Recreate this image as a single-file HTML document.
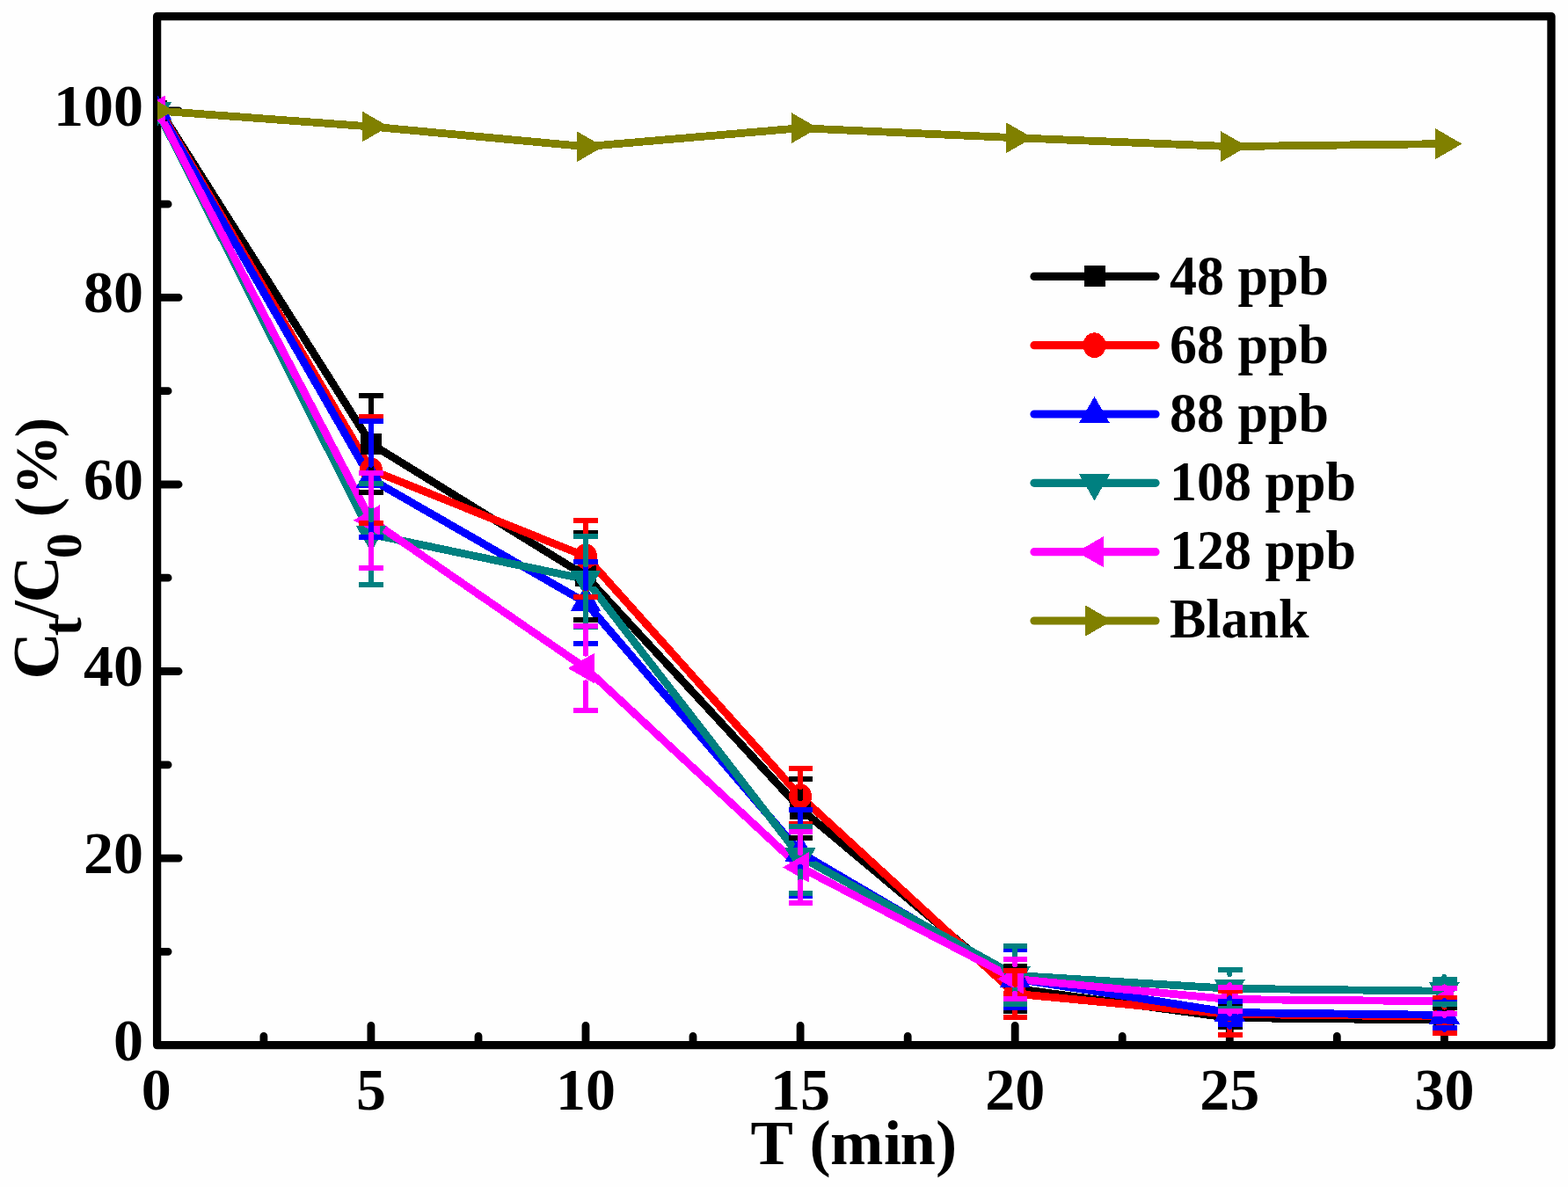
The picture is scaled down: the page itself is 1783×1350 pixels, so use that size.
<!DOCTYPE html>
<html><head><meta charset="utf-8"><title>Ct/C0 vs T</title>
<style>
html,body{margin:0;padding:0;background:#fefefe;}
svg{display:block;}
text{font-family:"Liberation Serif","Times New Roman",serif;font-weight:bold;fill:#000;}
</style></head><body>
<svg width="1783" height="1350" viewBox="0 0 1783 1350">
<rect x="0" y="0" width="1783" height="1350" fill="#fefefe"/>
<defs><clipPath id="pa"><rect x="179" y="18.6" width="1585" height="1170.0"/></clipPath></defs>

<rect x="178.6" y="18.6" width="1585.4" height="1170" fill="none" stroke="#000" stroke-width="9.3" stroke-linejoin="round"/>
<path d="M299.9,1184 V1178.4 M421.9,1184 V1166.3 M544.0,1184 V1178.4 M666.0,1184 V1166.3 M788.0,1184 V1178.4 M910.1,1184 V1166.3 M1032.2,1184 V1178.4 M1154.2,1184 V1166.3 M1276.2,1184 V1178.4 M1398.3,1184 V1166.3 M1520.3,1184 V1178.4 M1642.4,1184 V1166.3 M183.5,1082.3 H191.1 M183.5,976.1 H203.1 M183.5,869.8 H191.1 M183.5,763.5 H203.1 M183.5,657.2 H191.1 M183.5,551.0 H203.1 M183.5,444.7 H191.1 M183.5,338.4 H203.1 M183.5,232.2 H191.1 M183.5,125.9 H203.1" stroke="#000" stroke-width="8.8" stroke-linecap="round" fill="none"/>
<text x="177.8" y="1261.6" font-size="68" text-anchor="middle">0</text>
<text x="421.9" y="1261.6" font-size="68" text-anchor="middle">5</text>
<text x="666.0" y="1261.6" font-size="68" text-anchor="middle">10</text>
<text x="910.1" y="1261.6" font-size="68" text-anchor="middle">15</text>
<text x="1154.2" y="1261.6" font-size="68" text-anchor="middle">20</text>
<text x="1398.3" y="1261.6" font-size="68" text-anchor="middle">25</text>
<text x="1642.4" y="1261.6" font-size="68" text-anchor="middle">30</text>
<text x="163.1" y="1205.5" font-size="68" text-anchor="end">0</text>
<text x="163.1" y="993.0" font-size="68" text-anchor="end">20</text>
<text x="163.1" y="780.4" font-size="68" text-anchor="end">40</text>
<text x="163.1" y="567.9" font-size="68" text-anchor="end">60</text>
<text x="163.1" y="355.3" font-size="68" text-anchor="end">80</text>
<text x="163.1" y="142.8" font-size="68" text-anchor="end">100</text>
<text y="1323.7" font-size="72.5" x="853.45 901.81 920.40 943.95 1005.11 1023.61 1063.95">T (min)</text>
<text transform="rotate(-90)"><tspan x="-772.56" y="66.30" font-size="74">C</tspan><tspan x="-723.26" y="91.60" font-size="63">t</tspan><tspan x="-703.80" y="66.30" font-size="74">/</tspan><tspan x="-685.56" y="66.30" font-size="74">C</tspan><tspan x="-635.15" y="91.50" font-size="58">0</tspan><tspan font-size="68"> </tspan><tspan x="-588.37" y="64.30" font-size="68">(</tspan><tspan x="-562.95" y="64.30" font-size="68">%</tspan><tspan x="-497.57" y="64.30" font-size="68">)</tspan></text>
<g clip-path="url(#pa)">
<polyline points="182.0,125.9 421.9,504.8 666.0,655.1 910.1,919.7 1154.2,1124.2 1398.3,1157.6 1642.4,1160.2" fill="none" stroke="#000000" stroke-width="8.8" stroke-linejoin="round" stroke-linecap="round" shape-rendering="crispEdges"/>
<polyline points="181.7,125.9 421.9,534.4 666.0,632.8 910.1,905.7 1154.2,1130.2 1398.3,1153.5 1642.4,1156.1" fill="none" stroke="#FF0000" stroke-width="8.8" stroke-linejoin="round" stroke-linecap="round" shape-rendering="crispEdges"/>
<polyline points="181.0,125.9 421.9,544.9 666.0,685.3 910.1,969.7 1154.2,1113.1 1398.3,1151.5 1642.4,1154.4" fill="none" stroke="#0000FF" stroke-width="8.8" stroke-linejoin="round" stroke-linecap="round" shape-rendering="crispEdges"/>
<polyline points="179.0,125.9 421.9,607.6 666.0,658.8 910.1,974.5 1154.2,1109.3 1398.3,1124.3 1642.4,1127.2" fill="none" stroke="#008080" stroke-width="8.8" stroke-linejoin="round" stroke-linecap="round" shape-rendering="crispEdges"/>
<polyline points="179.4,125.9 421.9,591.7 666.0,760.0 910.1,986.4 1154.2,1113.4 1398.3,1136.6 1642.4,1138.7" fill="none" stroke="#FF00FF" stroke-width="8.8" stroke-linejoin="round" stroke-linecap="round" shape-rendering="crispEdges"/>
<polyline points="177.8,125.9 421.9,144.0 666.0,166.7 910.1,145.7 1154.2,156.7 1398.3,166.6 1642.4,163.6" fill="none" stroke="#808000" stroke-width="8.8" stroke-linejoin="round" stroke-linecap="round" shape-rendering="crispEdges"/>
<g shape-rendering="crispEdges"><rect x="165.8" y="113.9" width="24.0" height="24.0" fill="#000000"/><rect x="409.9" y="492.8" width="24.0" height="24.0" fill="#000000"/><rect x="654.0" y="643.1" width="24.0" height="24.0" fill="#000000"/><rect x="898.1" y="907.7" width="24.0" height="24.0" fill="#000000"/><rect x="1142.2" y="1112.2" width="24.0" height="24.0" fill="#000000"/><rect x="1386.3" y="1145.6" width="24.0" height="24.0" fill="#000000"/><rect x="1630.4" y="1148.2" width="24.0" height="24.0" fill="#000000"/></g>
<g shape-rendering="crispEdges"><ellipse cx="177.8" cy="125.9" rx="12.95" ry="14.30" fill="#FF0000"/><ellipse cx="421.9" cy="534.4" rx="12.95" ry="14.30" fill="#FF0000"/><ellipse cx="666.0" cy="632.8" rx="12.95" ry="14.30" fill="#FF0000"/><ellipse cx="910.1" cy="905.7" rx="12.95" ry="14.30" fill="#FF0000"/><ellipse cx="1154.2" cy="1130.2" rx="12.95" ry="14.30" fill="#FF0000"/><ellipse cx="1398.3" cy="1153.5" rx="12.95" ry="14.30" fill="#FF0000"/><ellipse cx="1642.4" cy="1156.1" rx="12.95" ry="14.30" fill="#FF0000"/></g>
<g shape-rendering="crispEdges"><polygon points="177.8,105.8 195.2,136.0 160.4,136.0" fill="#0000FF"/><polygon points="421.9,524.8 439.3,555.0 404.4,555.0" fill="#0000FF"/><polygon points="666.0,665.2 683.5,695.4 648.5,695.4" fill="#0000FF"/><polygon points="910.1,949.5 927.5,979.8 892.6,979.8" fill="#0000FF"/><polygon points="1154.2,1093.0 1171.7,1123.2 1136.8,1123.2" fill="#0000FF"/><polygon points="1398.3,1131.4 1415.8,1161.6 1380.8,1161.6" fill="#0000FF"/><polygon points="1642.4,1134.2 1659.8,1164.5 1624.9,1164.5" fill="#0000FF"/></g>
<g shape-rendering="crispEdges"><polygon points="177.8,146.0 195.2,115.8 160.4,115.8" fill="#008080"/><polygon points="421.9,627.8 439.3,597.5 404.4,597.5" fill="#008080"/><polygon points="666.0,679.0 683.5,648.8 648.5,648.8" fill="#008080"/><polygon points="910.1,994.6 927.5,964.4 892.6,964.4" fill="#008080"/><polygon points="1154.2,1129.5 1171.7,1099.2 1136.8,1099.2" fill="#008080"/><polygon points="1398.3,1144.5 1415.8,1114.2 1380.8,1114.2" fill="#008080"/><polygon points="1642.4,1147.3 1659.8,1117.1 1624.9,1117.1" fill="#008080"/></g>
<g shape-rendering="crispEdges"><polygon points="157.7,125.9 187.9,108.4 187.9,143.3" fill="#FF00FF"/><polygon points="401.8,591.7 432.0,574.2 432.0,609.1" fill="#FF00FF"/><polygon points="645.9,760.0 676.1,742.6 676.1,777.5" fill="#FF00FF"/><polygon points="890.0,986.4 920.2,968.9 920.2,1003.8" fill="#FF00FF"/><polygon points="1134.1,1113.4 1164.3,1095.9 1164.3,1130.8" fill="#FF00FF"/><polygon points="1378.2,1136.6 1408.4,1119.2 1408.4,1154.1" fill="#FF00FF"/><polygon points="1622.3,1138.7 1652.5,1121.2 1652.5,1156.1" fill="#FF00FF"/></g>
<g shape-rendering="crispEdges"><polygon points="197.9,125.9 167.7,108.4 167.7,143.3" fill="#808000"/><polygon points="442.0,144.0 411.8,126.5 411.8,161.4" fill="#808000"/><polygon points="686.1,166.7 655.9,149.3 655.9,184.2" fill="#808000"/><polygon points="930.2,145.7 900.0,128.2 900.0,163.1" fill="#808000"/><polygon points="1174.3,156.7 1144.1,139.3 1144.1,174.2" fill="#808000"/><polygon points="1418.4,166.6 1388.2,149.2 1388.2,184.1" fill="#808000"/><polygon points="1662.5,163.6 1632.3,146.2 1632.3,181.1" fill="#808000"/></g>
<path d="M421.9,493.0 V449.5 M421.9,516.6 V560.0 M666.0,643.3 V605.5 M666.0,666.9 V704.8 M910.1,907.9 V886.0 M910.1,931.5 V953.4 M1154.2,1112.4 V1098.7 M1154.2,1136.0 V1149.7 M1398.3,1145.8 V1141.5 M1398.3,1169.4 V1168.4 M1642.4,1148.4 V1145.5 M1642.4,1172.0 V1169.5" stroke="#000000" stroke-width="6" stroke-linecap="round" fill="none" shape-rendering="crispEdges"/>
<path d="M408.3,449.5 H436.1 M408.3,560.0 H436.1 M652.4,605.5 H680.2 M652.4,704.8 H680.2 M896.5,886.0 H924.3 M896.5,953.4 H924.3 M1140.6,1098.7 H1168.4 M1140.6,1149.7 H1168.4 M1384.7,1141.5 H1412.5 M1384.7,1168.4 H1412.5 M1628.8,1145.5 H1656.6 M1628.8,1169.5 H1656.6" stroke="#000000" stroke-width="6" fill="none" shape-rendering="crispEdges"/>
<path d="M421.9,523.9 V473.9 M421.9,544.9 V594.9 M666.0,622.3 V591.8 M666.0,643.3 V679.0 M910.1,895.2 V874.0 M910.1,916.2 V937.4 M1154.2,1119.7 V1103.6 M1154.2,1140.7 V1156.7 M1398.3,1143.0 V1126.5 M1398.3,1164.0 V1176.9 M1642.4,1145.6 V1134.8 M1642.4,1166.6 V1175.2" stroke="#FF0000" stroke-width="6" stroke-linecap="round" fill="none" shape-rendering="crispEdges"/>
<path d="M408.3,473.9 H436.1 M408.3,594.9 H436.1 M652.4,591.8 H680.2 M652.4,679.0 H680.2 M896.5,874.0 H924.3 M896.5,937.4 H924.3 M1140.6,1103.6 H1168.4 M1140.6,1156.7 H1168.4 M1384.7,1126.5 H1412.5 M1384.7,1176.9 H1412.5 M1628.8,1134.8 H1656.6 M1628.8,1175.2 H1656.6" stroke="#FF0000" stroke-width="6" fill="none" shape-rendering="crispEdges"/>
<path d="M421.9,528.6 V479.1 M421.9,561.2 V610.7 M666.0,669.0 V639.1 M666.0,701.6 V731.5 M910.1,953.4 V920.8 M910.1,986.0 V1018.6 M1154.2,1096.8 V1080.2 M1154.2,1129.4 V1146.1 M1398.3,1135.2 V1138.5 M1398.3,1167.8 V1164.5 M1642.4,1138.1 V1139.7 M1642.4,1170.7 V1169.0" stroke="#0000FF" stroke-width="6" stroke-linecap="round" fill="none" shape-rendering="crispEdges"/>
<path d="M408.3,479.1 H436.1 M408.3,610.7 H436.1 M652.4,639.1 H680.2 M652.4,731.5 H680.2 M896.5,920.8 H924.3 M896.5,1018.6 H924.3 M1140.6,1080.2 H1168.4 M1140.6,1146.1 H1168.4 M1384.7,1138.5 H1412.5 M1384.7,1164.5 H1412.5 M1628.8,1139.7 H1656.6 M1628.8,1169.0 H1656.6" stroke="#0000FF" stroke-width="6" fill="none" shape-rendering="crispEdges"/>
<path d="M421.9,591.3 V550.0 M421.9,623.9 V665.2 M666.0,642.5 V610.2 M666.0,675.1 V712.5 M910.1,958.2 V940.0 M910.1,990.8 V1016.4 M1154.2,1093.0 V1076.4 M1154.2,1125.6 V1142.3 M1398.3,1108.0 V1102.9 M1398.3,1140.6 V1147.2 M1642.4,1110.9 V1113.7 M1642.4,1143.5 V1141.8" stroke="#008080" stroke-width="6" stroke-linecap="round" fill="none" shape-rendering="crispEdges"/>
<path d="M408.3,550.0 H436.1 M408.3,665.2 H436.1 M652.4,610.2 H680.2 M652.4,712.5 H680.2 M896.5,940.0 H924.3 M896.5,1016.4 H924.3 M1140.6,1076.4 H1168.4 M1140.6,1142.3 H1168.4 M1384.7,1102.9 H1412.5 M1384.7,1147.2 H1412.5 M1628.8,1113.7 H1656.6 M1628.8,1141.8 H1656.6" stroke="#008080" stroke-width="6" fill="none" shape-rendering="crispEdges"/>
<path d="M421.9,575.4 V537.7 M421.9,608.0 V645.7 M666.0,743.7 V712.2 M666.0,776.3 V807.8 M910.1,970.1 V946.0 M910.1,1002.7 V1026.8 M1154.2,1097.1 V1091.0 M1154.2,1129.7 V1135.7 M1398.3,1120.3 V1122.8 M1398.3,1152.9 V1150.4 M1642.4,1122.4 V1124.0 M1642.4,1155.0 V1153.3" stroke="#FF00FF" stroke-width="6" stroke-linecap="round" fill="none" shape-rendering="crispEdges"/>
<path d="M408.3,537.7 H436.1 M408.3,645.7 H436.1 M652.4,712.2 H680.2 M652.4,807.8 H680.2 M896.5,946.0 H924.3 M896.5,1026.8 H924.3 M1140.6,1091.0 H1168.4 M1140.6,1135.7 H1168.4 M1384.7,1122.8 H1412.5 M1384.7,1150.4 H1412.5 M1628.8,1124.0 H1656.6 M1628.8,1153.3 H1656.6" stroke="#FF00FF" stroke-width="6" fill="none" shape-rendering="crispEdges"/>
</g>
<line x1="1176" y1="314.4" x2="1314" y2="314.4" stroke="#000000" stroke-width="9.2" stroke-linecap="round"/>
<g shape-rendering="crispEdges"><rect x="1232.5" y="302.4" width="24.0" height="24.0" fill="#000000"/></g>
<text transform="translate(1330,335.20) scale(1,1.03)" font-size="62">48 ppb</text>
<line x1="1176" y1="392.7" x2="1314" y2="392.7" stroke="#FF0000" stroke-width="9.2" stroke-linecap="round"/>
<g shape-rendering="crispEdges"><ellipse cx="1244.5" cy="392.7" rx="12.95" ry="14.30" fill="#FF0000"/></g>
<text transform="translate(1330,413.16) scale(1,1.03)" font-size="62">68 ppb</text>
<line x1="1176" y1="471.0" x2="1314" y2="471.0" stroke="#0000FF" stroke-width="9.2" stroke-linecap="round"/>
<g shape-rendering="crispEdges"><polygon points="1244.5,450.9 1262.0,481.1 1227.0,481.1" fill="#0000FF"/></g>
<text transform="translate(1330,491.12) scale(1,1.03)" font-size="62">88 ppb</text>
<line x1="1176" y1="549.3" x2="1314" y2="549.3" stroke="#008080" stroke-width="9.2" stroke-linecap="round"/>
<g shape-rendering="crispEdges"><polygon points="1244.5,569.5 1262.0,539.3 1227.0,539.3" fill="#008080"/></g>
<text transform="translate(1330,569.08) scale(1,1.03)" font-size="62">108 ppb</text>
<line x1="1176" y1="627.7" x2="1314" y2="627.7" stroke="#FF00FF" stroke-width="9.2" stroke-linecap="round"/>
<g shape-rendering="crispEdges"><polygon points="1224.4,627.7 1254.6,610.2 1254.6,645.1" fill="#FF00FF"/></g>
<text transform="translate(1330,647.04) scale(1,1.03)" font-size="62">128 ppb</text>
<line x1="1176" y1="706.0" x2="1314" y2="706.0" stroke="#808000" stroke-width="9.2" stroke-linecap="round"/>
<g shape-rendering="crispEdges"><polygon points="1264.6,706.0 1234.4,688.5 1234.4,723.5" fill="#808000"/></g>
<text transform="translate(1330,725.00) scale(1,1.03)" font-size="62">Blank</text>
</svg></body></html>
